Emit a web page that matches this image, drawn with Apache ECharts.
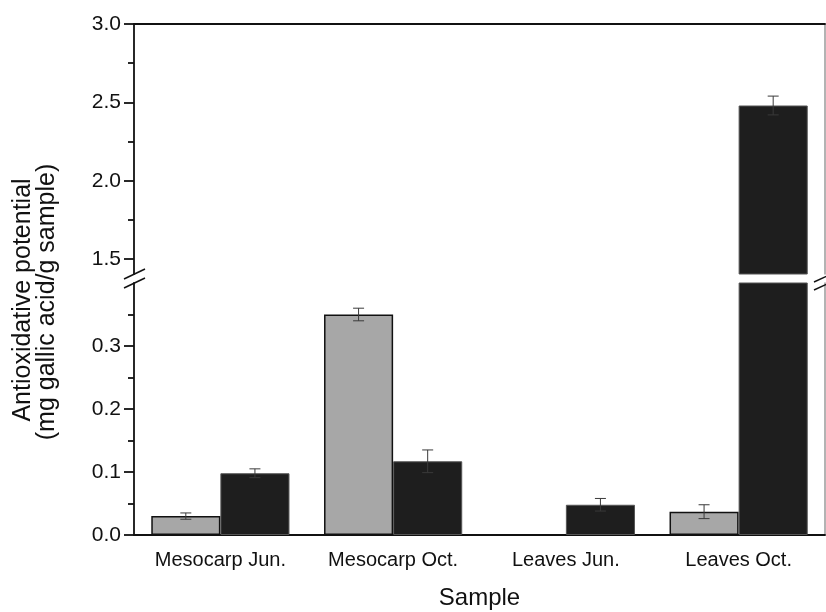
<!DOCTYPE html>
<html>
<head>
<meta charset="utf-8">
<script src="https://cdn.jsdelivr.net/npm/echarts@6/dist/echarts.min.js"></script>
<style>
  html, body { margin: 0; padding: 0; background: #fff; }
  #main { width: 826px; height: 612px; }
</style>
</head>
<body>
<div id="main"></div>
<script>
const categories = ['Mesocarp Jun.', 'Mesocarp Oct.', 'Leaves Jun.', 'Leaves Oct.'];
const grayValues = [0.030, 0.350, 0, 0.037];
const grayErrors = [0.005, 0.010, 0, 0.011];
const blackValues = [0.098, 0.117, 0.048, 2.48];
const blackErrors = [0.007, 0.018, 0.010, 0.060];
const upperTicks = [1.5, 2.0, 2.5, 3.0];
const upperMinor = [1.75, 2.25, 2.75];
const lowerTicks = [0, 0.1, 0.2, 0.3];
const lowerMinor = [0.05, 0.15, 0.25, 0.35];

const UPPER_MIN = 1.405, UPPER_MAX = 3.0;
const LOWER_MIN = 0, LOWER_MAX = 0.4;
const FONT = "'Liberation Sans', Arial, sans-serif";
const INK = '#111';

const chart = echarts.init(document.getElementById('main'), null, { renderer: 'canvas' });

// error bar points: [category, value, error, group]
const errData = [];
categories.forEach(function (c, i) {
  errData.push([i, grayValues[i], grayErrors[i], 0]);
  errData.push([i, blackValues[i], blackErrors[i], 1]);
});

function renderErr(params, api) {
  const i = api.value(0), v = api.value(1), e = api.value(2), g = api.value(3);
  if (!e) return null;
  const band = api.size([1, 0])[0];
  const cx = api.coord([i, v])[0] + (g === 0 ? -0.2 : 0.2) * band;
  const top = api.coord([i, v + e])[1];
  const bot = api.coord([i, v - e])[1];
  const cap = 5.5;
  const st = { stroke: '#3a3a3a', lineWidth: 1 };
  return {
    type: 'group',
    children: [
      { type: 'line', shape: { x1: cx, y1: top, x2: cx, y2: bot }, style: st },
      { type: 'line', shape: { x1: cx - cap, y1: top, x2: cx + cap, y2: top }, style: st },
      { type: 'line', shape: { x1: cx - cap, y1: bot, x2: cx + cap, y2: bot }, style: st }
    ]
  };
}

function upperOnly(arr) {
  return arr.map(function (v) { return v > UPPER_MIN ? v : '-'; });
}

const labelStyle = { color: INK, fontFamily: FONT, fontSize: 21 };
const axisLineStyle = { lineStyle: { color: INK, width: 1.8 } };

function slash(x1, y1, x2, y2) {
  return { type: 'line', shape: { x1: x1, y1: y1, x2: x2, y2: y2 }, style: { stroke: INK, lineWidth: 1.5 }, z: 100 };
}

const option = {
  backgroundColor: '#fff',
  animation: false,
  grid: [
    { left: 134, right: 1, top: 24, height: 250, outerBoundsMode: 'none' },
    { left: 134, right: 1, top: 283, height: 252, outerBoundsMode: 'none' }
  ],
  xAxis: [
    { gridIndex: 0, type: 'category', data: categories, position: 'top',
      axisLine: axisLineStyle, axisTick: { show: false }, axisLabel: { show: false }, splitLine: { show: false } },
    { gridIndex: 1, type: 'category', data: categories, position: 'bottom',
      axisLine: axisLineStyle,
      axisTick: { alignWithLabel: true, length: 11, lineStyle: { color: INK, width: 1.8 } },
      axisLabel: { color: INK, fontFamily: FONT, fontSize: 20, margin: 15 },
      name: 'Sample', nameLocation: 'middle', nameGap: 51,
      nameTextStyle: { color: INK, fontFamily: FONT, fontSize: 24 },
      splitLine: { show: false } },
    { gridIndex: 1, type: 'category', data: categories, position: 'bottom',
      axisLine: { show: false },
      axisTick: { length: 6, lineStyle: { color: INK, width: 1.8 } },
      axisLabel: { show: false }, splitLine: { show: false } }
  ],
  yAxis: [
    { gridIndex: 0, type: 'value', min: UPPER_MIN, max: UPPER_MAX, position: 'left',
      axisLine: { show: true, lineStyle: { color: INK, width: 1.8 } },
      axisTick: { show: true, length: 10, customValues: upperTicks, lineStyle: { color: INK, width: 1.8 } },
      axisLabel: Object.assign({ margin: 13, customValues: upperTicks, formatter: function (v) { return v.toFixed(1); } }, labelStyle),
      splitLine: { show: false } },
    { gridIndex: 0, type: 'value', min: UPPER_MIN, max: UPPER_MAX, position: 'left',
      axisLine: { show: false },
      axisTick: { show: true, length: 6, customValues: upperMinor, lineStyle: { color: INK, width: 1.8 } },
      axisLabel: { show: false }, splitLine: { show: false } },
    { gridIndex: 0, type: 'value', min: UPPER_MIN, max: UPPER_MAX, position: 'right',
      axisLine: { show: true, lineStyle: { color: '#9a9a9a', width: 1.5 } },
      axisTick: { show: false }, axisLabel: { show: false }, splitLine: { show: false } },
    { gridIndex: 1, type: 'value', min: LOWER_MIN, max: LOWER_MAX, position: 'left',
      axisLine: { show: true, lineStyle: { color: INK, width: 1.8 } },
      axisTick: { show: true, length: 10, customValues: lowerTicks, lineStyle: { color: INK, width: 1.8 } },
      axisLabel: Object.assign({ margin: 13, customValues: lowerTicks, formatter: function (v) { return v.toFixed(1); } }, labelStyle),
      splitLine: { show: false } },
    { gridIndex: 1, type: 'value', min: LOWER_MIN, max: LOWER_MAX, position: 'left',
      axisLine: { show: false },
      axisTick: { show: true, length: 6, customValues: lowerMinor, lineStyle: { color: INK, width: 1.8 } },
      axisLabel: { show: false }, splitLine: { show: false } },
    { gridIndex: 1, type: 'value', min: LOWER_MIN, max: LOWER_MAX, position: 'right',
      axisLine: { show: true, lineStyle: { color: '#9a9a9a', width: 1.5 } },
      axisTick: { show: false }, axisLabel: { show: false }, splitLine: { show: false } }
  ],
  series: [
    { type: 'bar', xAxisIndex: 1, yAxisIndex: 3, data: grayValues, barGap: '0%', barCategoryGap: '20%',
      itemStyle: { color: '#a7a7a7', borderColor: '#111', borderWidth: 1.5 } },
    { type: 'bar', xAxisIndex: 1, yAxisIndex: 3, data: blackValues, barGap: '0%', barCategoryGap: '20%',
      itemStyle: { color: '#1e1e1e', borderColor: '#555', borderWidth: 1 } },
    { type: 'bar', xAxisIndex: 0, yAxisIndex: 0, data: upperOnly(grayValues), barGap: '0%', barCategoryGap: '20%',
      itemStyle: { color: '#a7a7a7', borderColor: '#111', borderWidth: 1.5 } },
    { type: 'bar', xAxisIndex: 0, yAxisIndex: 0, data: upperOnly(blackValues), barGap: '0%', barCategoryGap: '20%',
      itemStyle: { color: '#1e1e1e', borderColor: '#555', borderWidth: 1 } },
    { type: 'custom', xAxisIndex: 1, yAxisIndex: 3, data: errData, renderItem: renderErr, clip: true, z: 10,
      encode: { x: 0, y: 1 } },
    { type: 'custom', xAxisIndex: 0, yAxisIndex: 0, data: errData, renderItem: renderErr, clip: true, z: 10,
      encode: { x: 0, y: 1 } }
  ],
  graphic: [
    { type: 'text', x: 23, y: 300, rotation: Math.PI / 2,
      style: { text: 'Antioxidative potential', fill: INK, font: '25px ' + FONT, align: 'center', verticalAlign: 'middle' } },
    { type: 'text', x: 47, y: 302, rotation: Math.PI / 2,
      style: { text: '(mg gallic acid/g sample)', fill: INK, font: '25px ' + FONT, align: 'center', verticalAlign: 'middle' } },
    slash(124, 279, 145, 269),
    slash(124, 288, 145, 278),
    slash(814, 282, 836, 272),
    slash(814, 290, 836, 280)
  ]
};

chart.setOption(option);
</script>
</body>
</html>
